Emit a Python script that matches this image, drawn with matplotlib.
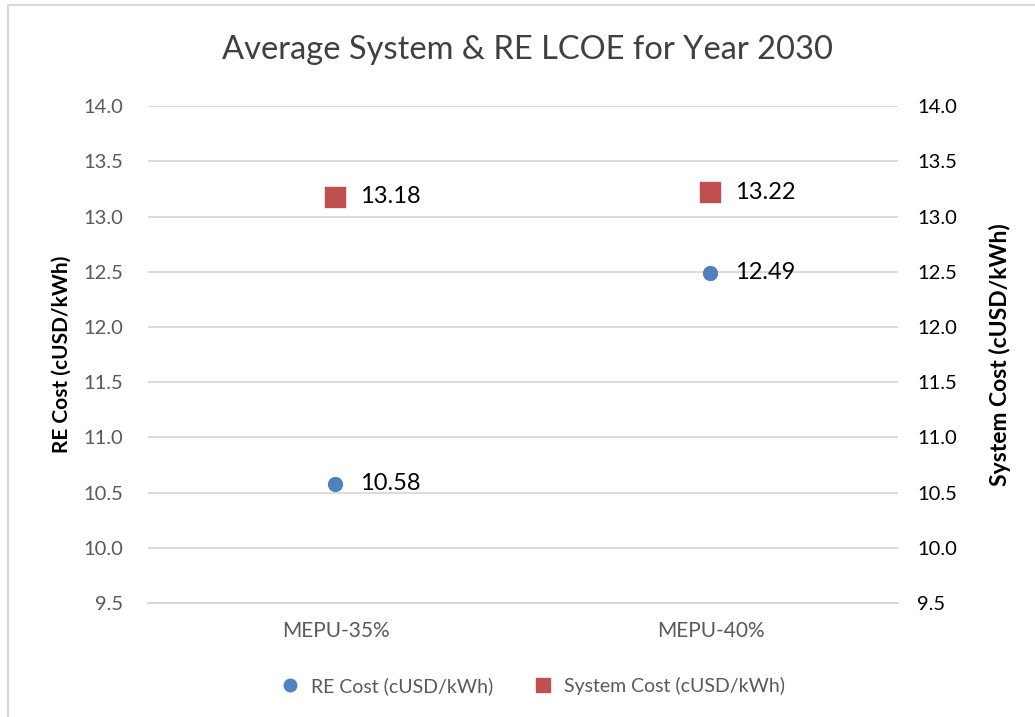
import matplotlib.pyplot as plt
import numpy as np
from matplotlib.lines import Line2D

plt.rcParams['font.family'] = ['Lato', 'DejaVu Sans']

categories = ['MEPU-35%', 'MEPU-40%']
re_cost = [10.58, 12.49]
system_cost = [13.18, 13.22]
yticks = [9.5, 10.0, 10.5, 11.0, 11.5, 12.0, 12.5, 13.0, 13.5, 14.0]

blue = '#4f81bd'
red = '#c0504d'
grid = '#d9d9d9'
txt = '#595959'

fig = plt.figure(figsize=(10.35, 7.17), dpi=100)
ax = fig.add_axes([0.143, 0.159, 0.7246, 0.693])
ax2 = ax.twinx()

x = np.arange(len(categories))
ax.set_xlim(-0.5, 1.5)
ax.set_ylim(9.5, 14.0)
ax2.set_ylim(9.5, 14.0)

ax.set_yticks(yticks)
ax.set_yticklabels(['%.1f' % v for v in yticks], fontsize=14.5, color=txt)
ax2.set_yticks(yticks)
ax2.set_yticklabels(['%.1f' % v for v in yticks], fontsize=14.5, color='black')
ax.yaxis.grid(True, color=grid, linewidth=1.3)
ax.set_axisbelow(True)
ax.tick_params(axis='y', length=0, pad=18)
ax2.tick_params(axis='y', length=0, pad=14)
ax.tick_params(axis='x', length=0, pad=13)
ax.set_xticks(x)
ax.set_xticklabels(categories, fontsize=15, color=txt)

for a in (ax, ax2):
    for s in ('top', 'left', 'right'):
        a.spines[s].set_visible(False)
    a.spines['bottom'].set_color(grid)
    a.spines['bottom'].set_linewidth(1.3)

ax.scatter(x, re_cost, s=100, marker='o', color=blue, zorder=3)
ax2.scatter(x, system_cost, s=215, marker='s', color=red, zorder=3)
for xi, v in zip(x, re_cost):
    ax.annotate('%.2f' % v, (xi, v), xytext=(18, 0), textcoords='offset points',
                va='center', fontsize=17)
for xi, v in zip(x, system_cost):
    ax2.annotate('%.2f' % v, (xi, v), xytext=(18, 0), textcoords='offset points',
                 va='center', fontsize=17)

ax.set_ylabel('RE Cost (cUSD/kWh)', fontsize=15, fontweight='bold', labelpad=8)
ax2.set_ylabel('System Cost (cUSD/kWh)', fontsize=16.5, fontweight='bold', labelpad=23)

fig.text(0.51, 0.93, 'Average System & RE LCOE for Year 2030', ha='center', va='center',
         fontsize=23.5, color='#404040')

handles = [Line2D([], [], marker='o', color=blue, linestyle='', markersize=9),
           Line2D([], [], marker='s', color=red, linestyle='', markersize=10)]
fig.legend(handles, ['RE Cost (cUSD/kWh)', 'System Cost (cUSD/kWh)'], loc='center',
           bbox_to_anchor=(0.51, 0.043), ncol=2, frameon=False, fontsize=14,
           handletextpad=0.05, columnspacing=1.6, labelcolor=txt)

fig.patches.append(plt.Rectangle((0.008, -0.01), 1.2, 1.003, transform=fig.transFigure,
                                 fill=False, edgecolor='#d9d9d9', linewidth=1.5))

fig.savefig('out.png', dpi=100)
